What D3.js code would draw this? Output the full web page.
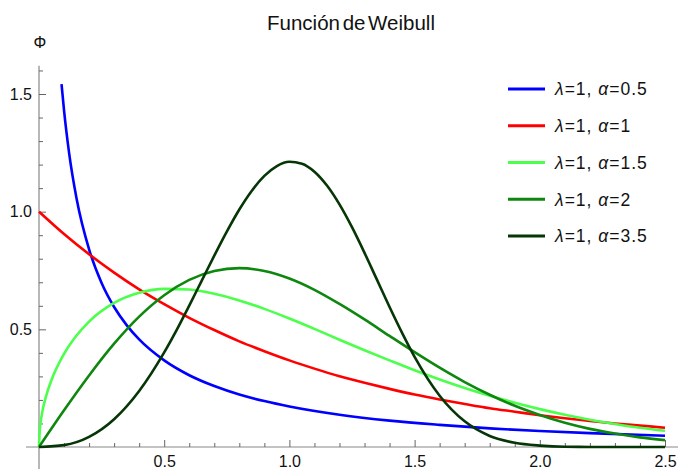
<!DOCTYPE html>
<html>
<head>
<meta charset="utf-8">
<script src="https://cdn.jsdelivr.net/npm/d3@7"></script>
<style>
body { margin: 0; background: #fff; }
text { font-family: "Liberation Sans", Arial, sans-serif; }
</style>
</head>
<body>
<div id="chart"></div>
<script>
var width = 693
var height = 469

// values
var xGrid = [0, 0.1, 0.2, 0.3, 0.4, 0.5, 0.6, 0.7, 0.8, 0.9, 1.0, 1.1, 1.2, 1.3, 1.4,
             1.5, 1.6, 1.7, 1.8, 1.9, 2.0, 2.1, 2.2, 2.3, 2.4, 2.5]

var xAlpha05 = [0.09, 0.1, 0.12, 0.15, 0.2, 0.25, 0.3, 0.35, 0.4, 0.5, 0.6, 0.7, 0.8, 0.9,
                1.0, 1.2, 1.4, 1.6, 1.8, 2.0, 2.2, 2.5]
var yAlpha05 = [1.542, 1.430, 1.251, 1.056, 0.840, 0.697, 0.595, 0.518, 0.457, 0.368, 0.305,
                0.259, 0.223, 0.195, 0.172, 0.137, 0.112, 0.094, 0.079, 0.068, 0.059, 0.048]

var yAlpha1 = [1, 0.905, 0.819, 0.741, 0.670, 0.607, 0.549, 0.497, 0.449, 0.407, 0.368, 0.333,
               0.301, 0.273, 0.247, 0.223, 0.202, 0.183, 0.165, 0.150, 0.135, 0.122, 0.111,
               0.100, 0.091, 0.082]

var xAlpha15 = [0, 0.003, 0.01, 0.03, 0.05, 0.1, 0.15, 0.2, 0.3, 0.4, 0.5, 0.6, 0.7, 0.8, 0.9,
                1.0, 1.1, 1.2, 1.3, 1.4, 1.5, 1.6, 1.7, 1.8, 1.9, 2.0, 2.1, 2.2, 2.3, 2.4, 2.5]
var yAlpha15 = [0, 0.070, 0.129, 0.222, 0.285, 0.396, 0.474, 0.533, 0.612, 0.655, 0.672, 0.669,
                0.651, 0.623, 0.587, 0.546, 0.502, 0.456, 0.411, 0.368, 0.326, 0.287, 0.251,
                0.218, 0.188, 0.161, 0.137, 0.116, 0.098, 0.082, 0.069]

var yAlpha2 = [0, 0.156, 0.304, 0.439, 0.554, 0.645, 0.710, 0.748, 0.760, 0.748, 0.716, 0.668,
               0.608, 0.542, 0.472, 0.403, 0.337, 0.276, 0.222, 0.175, 0.136, 0.103, 0.077,
               0.057, 0.041, 0.029]

var xAlpha35 = [0, 0.1, 0.2, 0.3, 0.4, 0.5, 0.55, 0.6, 0.65, 0.7, 0.75, 0.8, 0.85, 0.9, 0.95,
                1.0, 1.05, 1.1, 1.15, 1.2, 1.25, 1.3, 1.35, 1.4, 1.45, 1.5, 1.6, 1.7, 1.8,
                1.9, 2.0, 2.1, 2.2, 2.3, 2.4, 2.5]
var yAlpha35 = [0, 0.008, 0.043, 0.118, 0.238, 0.402, 0.498, 0.601, 0.707, 0.813, 0.915, 1.009,
                1.089, 1.152, 1.194, 1.212, 1.204, 1.170, 1.111, 1.031, 0.934, 0.825, 0.710,
                0.595, 0.485, 0.383, 0.218, 0.109, 0.047, 0.018, 0.006, 0.001, 0.0003,
                0, 0, 0]

var alphaLabels = ["0.5", "1", "1.5", "2", "3.5"]
var xMajorTicks = [0.5, 1.0, 1.5, 2.0, 2.5]
var yMajorTicks = [0.5, 1.0, 1.5]

var colors = ["#0000ff", "#ff0000", "#4cff4c", "#0e870e", "#063606"]

var series = [
    {name: alphaLabels[0], xs: xAlpha05, ys: yAlpha05},
    {name: alphaLabels[1], xs: xGrid, ys: yAlpha1},
    {name: alphaLabels[2], xs: xAlpha15, ys: yAlpha15},
    {name: alphaLabels[3], xs: xGrid, ys: yAlpha2},
    {name: alphaLabels[4], xs: xAlpha35, ys: yAlpha35}
].map(function(s, i) {
    return {name: s.name, color: colors[i],
            values: s.xs.map(function(x, j) { return {x: x, y: s.ys[j]}; })};
});

var x = d3.scaleLinear().domain([0, 2.5]).range([39, 665])
var y = d3.scaleLinear().domain([0, 1.5]).range([447, 94])

var svg = d3.select("#chart")
    .append("svg")
    .attr("width", width)
    .attr("height", height)

svg.append("text")
    .attr("x", 351)
    .attr("y", 30)
    .attr("text-anchor", "middle")
    .style("font-size", "20.5px")
    .style("word-spacing", "-3px")
    .attr("fill", "#111")
    .text("Función de Weibull")

// axis lines
svg.append("line")
    .attr("x1", x(-0.052)).attr("x2", x(2.552))
    .attr("y1", y(0)).attr("y2", y(0))
    .attr("stroke", "#888").attr("stroke-width", 1.2)
svg.append("line")
    .attr("x1", x(0)).attr("x2", x(0))
    .attr("y1", y(1.62)).attr("y2", y(-0.095))
    .attr("stroke", "#888").attr("stroke-width", 1.2)

var xMinor = d3.range(1, 25).map(function(i) { return i / 10; })
    .filter(function(v) { return Math.abs(v * 2 - Math.round(v * 2)) > 1e-6; })
var yMinor = d3.range(1, 17).map(function(i) { return i / 10; })
    .filter(function(v) { return Math.abs(v * 2 - Math.round(v * 2)) > 1e-6; })

var xAxisMinor = svg.append("g")
    .attr("transform", "translate(0," + y(0) + ")")
    .call(d3.axisBottom(x).tickValues(xMinor).tickSize(-4).tickFormat(""))
var xAxis = svg.append("g")
    .attr("transform", "translate(0," + y(0) + ")")
    .call(d3.axisBottom(x).tickValues(xMajorTicks).tickSize(-7).tickPadding(9)
          .tickFormat(d3.format(".1f")))

var yAxisMinor = svg.append("g")
    .attr("transform", "translate(" + x(0) + ",0)")
    .call(d3.axisLeft(y).tickValues(yMinor).tickSize(-4).tickFormat(""))
var yAxis = svg.append("g")
    .attr("transform", "translate(" + x(0) + ",0)")
    .call(d3.axisLeft(y).tickValues(yMajorTicks).tickSize(-7).tickPadding(7)
          .tickFormat(d3.format(".1f")))

svg.selectAll(".domain").remove()
svg.selectAll(".tick line").attr("stroke", "#666")
svg.selectAll(".tick text")
    .style("font-size", "16px")
    .style("font-family", "'Liberation Sans', Arial, sans-serif")
    .attr("fill", "#111")

svg.append("text")
    .attr("x", 40)
    .attr("y", 48)
    .attr("text-anchor", "middle")
    .style("font-size", "16px")
    .attr("fill", "#111")
    .text("Φ")

var line = d3.line()
    .x(function(d) { return x(d.x); })
    .y(function(d) { return y(d.y); })
    .curve(d3.curveMonotoneX)

svg.append("g").selectAll("path")
    .data(series)
    .enter().append("path")
    .attr("d", function(d) { return line(d.values); })
    .attr("fill", "none")
    .attr("stroke", function(d) { return d.color; })
    .attr("stroke-width", 2.6)

var legend = svg.append("g").selectAll("g")
    .data(series)
    .enter().append("g")
    .attr("transform", function(d, i) { return "translate(508," + (89 + i * 36.75) + ")"; })

legend.append("line")
    .attr("x1", 0).attr("x2", 37)
    .attr("stroke", function(d) { return d.color; })
    .attr("stroke-width", 3)

var lt = legend.append("text")
    .attr("x", 47)
    .attr("dy", "0.36em")
    .style("font-size", "17.5px")
    .style("letter-spacing", "1px")
    .attr("fill", "#111")
lt.append("tspan").style("font-style", "italic").text("λ")
lt.append("tspan").text("=1, ")
lt.append("tspan").style("font-style", "italic").text("α")
lt.append("tspan").text(function(d) { return "=" + d.name; })
</script>
</body>
</html>
